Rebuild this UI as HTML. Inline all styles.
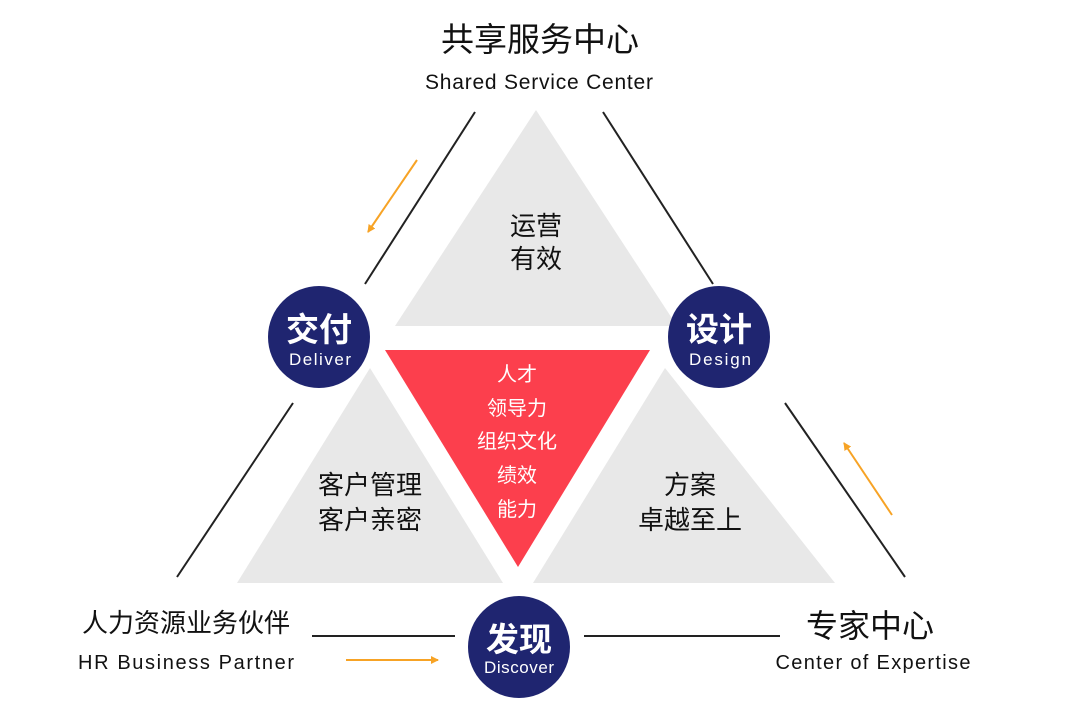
<!DOCTYPE html>
<html><head><meta charset="utf-8"><style>
body{margin:0;background:#fff;}
svg text{font-family:"Liberation Sans","Noto Sans CJK SC",sans-serif;}
</style></head><body>
<svg width="1080" height="710" viewBox="0 0 1080 710" xmlns="http://www.w3.org/2000/svg">
<defs><marker id="a" markerWidth="8" markerHeight="8" refX="7" refY="4" orient="auto" markerUnits="userSpaceOnUse"><path d="M0,0 L8,4 L0,8z" fill="#f7a325"/></marker></defs>
<rect width="1080" height="710" fill="#fff"/>
<polygon points="536,110 395,326 677,326" fill="#e8e8e8"/>
<polygon points="370,368 237,583 503,583" fill="#e8e8e8"/>
<polygon points="665,368 533,583 835,583" fill="#e8e8e8"/>
<polygon points="385,350 650,350 518,567" fill="#fc3f4d"/>
<g stroke="#222" stroke-width="2">
<line x1="475" y1="112" x2="365" y2="284"/>
<line x1="603" y1="112" x2="713" y2="284"/>
<line x1="293" y1="403" x2="177" y2="577"/>
<line x1="785" y1="403" x2="905" y2="577"/>
<line x1="312" y1="636" x2="455" y2="636"/>
<line x1="584" y1="636" x2="780" y2="636"/>
</g>
<g stroke="#f7a325" stroke-width="2">
<line x1="417" y1="160" x2="368" y2="232" marker-end="url(#a)"/>
<line x1="892" y1="515" x2="844" y2="443" marker-end="url(#a)"/>
<line x1="346" y1="660" x2="438" y2="660" marker-end="url(#a)"/>
</g>
<g fill="#1f2570">
<circle cx="319" cy="337" r="51"/><circle cx="719" cy="337" r="51"/><circle cx="519" cy="647" r="51"/>
</g>
<g fill="#fff" text-anchor="middle">
<text x="319" y="341" font-size="33" font-weight="bold">交付</text><text x="320" y="365" font-size="17" textLength="62">Deliver</text>
<text x="719" y="341" font-size="33" font-weight="bold">设计</text><text x="720" y="365" font-size="17" textLength="62">Design</text>
<text x="519" y="651" font-size="33" font-weight="bold">发现</text><text x="519" y="673" font-size="17" textLength="70">Discover</text>
<g font-size="20"><text x="517" y="381">人才</text><text x="517" y="415">领导力</text><text x="517" y="448">组织文化</text><text x="517" y="482">绩效</text><text x="517" y="516">能力</text></g>
</g>
<g fill="#111" text-anchor="middle">
<text x="536" y="235" font-size="26">运营</text><text x="536" y="268" font-size="26">有效</text>
<text x="370" y="494" font-size="26">客户管理</text><text x="370" y="529" font-size="26">客户亲密</text>
<text x="690" y="494" font-size="26">方案</text><text x="690" y="529" font-size="26">卓越至上</text>
<text x="540" y="51" font-size="33">共享服务中心</text>
<text x="539" y="89" font-size="21" textLength="228">Shared Service Center</text>
<text x="186" y="632" font-size="26">人力资源业务伙伴</text>
<text x="186" y="669" font-size="20" textLength="216">HR Business Partner</text>
<text x="870" y="637" font-size="32">专家中心</text>
<text x="873" y="669" font-size="20" textLength="195">Center of Expertise</text>
</g>
</svg>
</body></html>
